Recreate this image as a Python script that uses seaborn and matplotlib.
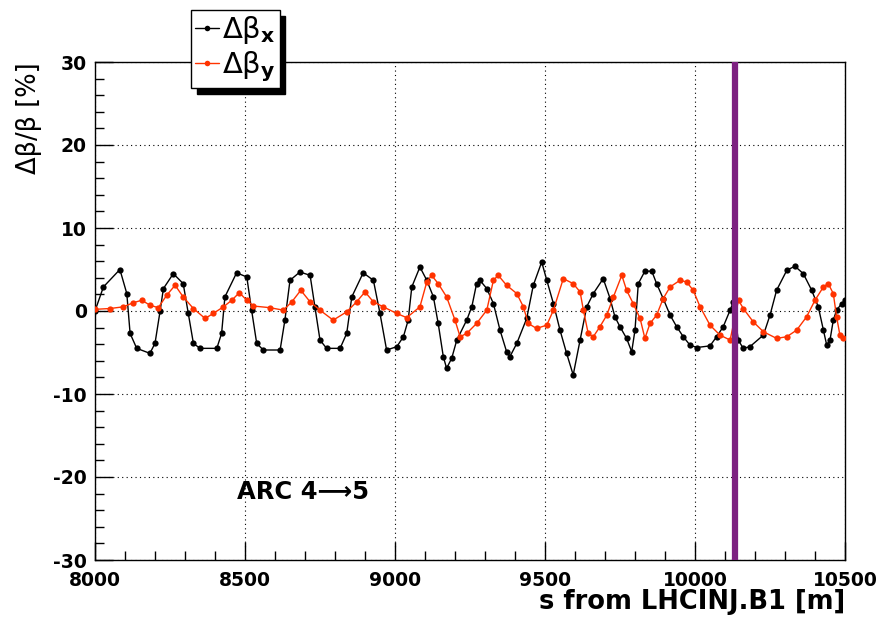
"""Delta beta / beta along ARC 4->5, LHC beam 1 (ROOT-style reproduction)."""
import matplotlib
matplotlib.use("Agg")
import matplotlib.pyplot as plt
from matplotlib.ticker import MultipleLocator
import pandas as pd
import seaborn as sns

# horizontal beta-beating, black
BX_S = [8000, 8028, 8083, 8106, 8117, 8139, 8183, 8200, 8217, 8228,
        8261, 8294, 8311, 8328, 8350, 8406, 8422, 8433, 8472, 8506,
        8522, 8539, 8561, 8617, 8633, 8650, 8683, 8717, 8733, 8750,
        8772, 8817, 8839, 8856, 8894, 8928, 8950, 8972, 9006, 9028,
        9044, 9056, 9083, 9106, 9128, 9144, 9161, 9172, 9189, 9206,
        9239, 9256, 9272, 9283, 9306, 9328, 9350, 9372, 9383, 9406,
        9439, 9461, 9489, 9506, 9528, 9550, 9572, 9594, 9617, 9639,
        9661, 9694, 9717, 9733, 9750, 9772, 9789, 9800, 9811, 9833,
        9856, 9872, 9894, 9917, 9939, 9961, 9983, 10006, 10050, 10072,
        10094, 10117, 10128, 10144, 10161, 10183, 10228, 10250, 10272, 10306,
        10333, 10361, 10389, 10411, 10428, 10439, 10450, 10461, 10472, 10489,
        10500]
BX_V = [0.0, 2.9, 5.0, 2.1, -2.7, -4.5, -5.1, -3.9, 0.0, 2.7,
        4.5, 3.3, -0.3, -3.9, -4.5, -4.5, -2.7, 1.7, 4.6, 4.1,
        0.1, -3.9, -4.7, -4.7, -1.1, 3.7, 4.7, 4.3, 0.5, -3.5,
        -4.5, -4.5, -2.7, 1.7, 4.6, 3.7, -0.3, -4.7, -4.3, -3.1,
        -1.1, 2.9, 5.3, 3.7, 1.7, -1.5, -5.5, -6.9, -5.7, -3.5,
        -1.1, 0.5, 3.3, 3.7, 2.7, 0.9, -2.3, -4.9, -5.5, -3.9,
        -0.9, 3.1, 5.9, 3.7, 0.9, -2.3, -5.1, -7.7, -3.5, 0.5,
        2.1, 3.9, 1.5, -0.7, -1.9, -3.3, -4.9, -2.3, 3.3, 4.8,
        4.8, 3.3, 1.5, -0.5, -1.9, -3.1, -4.1, -4.4, -4.2, -3.1,
        -1.9, 0.1, 1.1, -3.5, -4.5, -4.3, -2.9, -0.5, 2.5, 4.9,
        5.4, 4.5, 2.5, 0.5, -2.3, -4.1, -3.5, -1.1, 0.1, 0.9,
        1.3]

# vertical beta-beating, red
BY_S = [8000, 8050, 8094, 8128, 8156, 8183, 8211, 8239, 8267, 8294,
        8328, 8367, 8394, 8428, 8456, 8481, 8506, 8528, 8583, 8628,
        8656, 8686, 8717, 8750, 8794, 8839, 8872, 8900, 8928, 8961,
        9006, 9039, 9083, 9106, 9122, 9144, 9172, 9200, 9217, 9239,
        9272, 9306, 9328, 9344, 9372, 9406, 9428, 9444, 9472, 9506,
        9528, 9561, 9594, 9617, 9628, 9644, 9661, 9683, 9706, 9728,
        9756, 9772, 9794, 9817, 9833, 9850, 9872, 9894, 9917, 9950,
        9972, 9994, 10017, 10050, 10083, 10117, 10145, 10161, 10194, 10228,
        10272, 10306, 10339, 10372, 10400, 10428, 10444, 10461, 10472, 10483,
        10494]
BY_V = [0.2, 0.3, 0.5, 1.0, 1.3, 0.7, 0.4, 1.9, 3.1, 1.7,
        0.3, -0.9, -0.3, 0.5, 1.3, 2.2, 1.3, 0.6, 0.4, 0.1,
        1.1, 2.5, 1.1, 0.1, -1.1, -0.1, 1.1, 2.3, 1.1, 0.5,
        -0.3, -0.8, 0.5, 3.5, 4.3, 3.3, 1.7, -1.1, -3.1, -2.7,
        -1.5, 0.1, 3.7, 4.3, 3.1, 2.1, 0.5, -1.5, -2.1, -1.7,
        0.1, 3.9, 3.3, 2.3, 0.1, -2.7, -3.1, -1.9, -0.5, 1.7,
        4.3, 2.5, 0.9, -0.9, -3.3, -1.5, -0.5, 1.5, 2.9, 3.7,
        3.5, 2.5, 0.5, -1.7, -2.9, -3.5, 1.3, 0.3, -1.3, -2.5,
        -3.3, -3.1, -2.3, -0.7, 1.3, 2.9, 3.3, 2.1, -0.7, -2.9,
        -3.3]

MARKER_S = 10133  # vertical marker line
X_RANGE = (8000, 10500)
Y_RANGE = (-30, 30)

sns.set_style("white")
plt.rcParams["font.family"] = ["DejaVu Sans"]
plt.rcParams["mathtext.fontset"] = "dejavusans"
plt.rcParams["axes.unicode_minus"] = False
for key in ("text.color", "axes.labelcolor", "xtick.color", "ytick.color"):
    plt.rcParams[key] = "black"

fig = plt.figure(figsize=(8.8, 6.22), dpi=100)
ax = fig.add_axes([95 / 880, 1 - 560 / 622, 750 / 880, 498 / 622])

dfx = pd.DataFrame({"s": BX_S, "dbeta": BX_V})
dfy = pd.DataFrame({"s": BY_S, "dbeta": BY_V})

sns.lineplot(data=dfx, x="s", y="dbeta", ax=ax, color="black", lw=1.0,
             marker="o", markersize=4.5, markeredgewidth=0, sort=False,
             estimator=None, label=r"Δβ$_{\mathbf{x}}$", zorder=3)
sns.lineplot(data=dfy, x="s", y="dbeta", ax=ax, color="#ff3300", lw=1.0,
             marker="o", markersize=4.5, markeredgewidth=0, sort=False,
             estimator=None, label=r"Δβ$_{\mathbf{y}}$", zorder=4)
ax.axvline(MARKER_S, color="#7d2181", lw=4.5, zorder=5)

ax.set_xlim(*X_RANGE)
ax.set_ylim(*Y_RANGE)
ax.xaxis.set_major_locator(MultipleLocator(500))
ax.xaxis.set_minor_locator(MultipleLocator(100))
ax.yaxis.set_major_locator(MultipleLocator(10))
ax.yaxis.set_minor_locator(MultipleLocator(2))
ax.tick_params(which="both", direction="in", color="black", width=1,
               bottom=True, left=True, top=False, right=False)
ax.tick_params(which="major", length=13, labelsize=13.5)
ax.tick_params(which="minor", length=6.5)
ax.tick_params(axis="x", pad=8)
ax.tick_params(axis="y", pad=6)
for lab in ax.get_xticklabels() + ax.get_yticklabels():
    lab.set_fontweight("bold")
for sp in ax.spines.values():
    sp.set_color("black")
    sp.set_linewidth(1)
ax.grid(True, which="major", color="black", linestyle=(0, (1, 3)), linewidth=0.8)

ax.set_xlabel("s from LHCINJ.B1 [m]", fontsize=18.5, fontweight="bold", loc="right")
ax.xaxis.set_label_coords(1.0, -0.058)
ax.set_ylabel("Δβ/β [%]", fontsize=18.5, loc="top")
ax.yaxis.set_label_coords(-0.071, 1.0)

ax.text(8473, -21.8, "ARC 4⟶5", fontsize=17.5, fontweight="bold", va="center", ha="left")

handles, labels = ax.get_legend_handles_labels()
ax.get_legend().remove()
leg = fig.legend(handles, labels, loc="upper left", bbox_to_anchor=(191 / 880, 1 - 10 / 622),
                 borderaxespad=0, fontsize=21, frameon=True, fancybox=False,
                 edgecolor="black", framealpha=1, handlelength=0.8,
                 handletextpad=0.1, labelspacing=0.1, borderpad=0.15,
                 shadow={"ox": 4, "oy": -4, "color": "black", "alpha": 1})
leg.get_frame().set_linewidth(1)
for h in leg.legend_handles:
    h.set_markersize(4)

fig.savefig("out.png", dpi=100)
